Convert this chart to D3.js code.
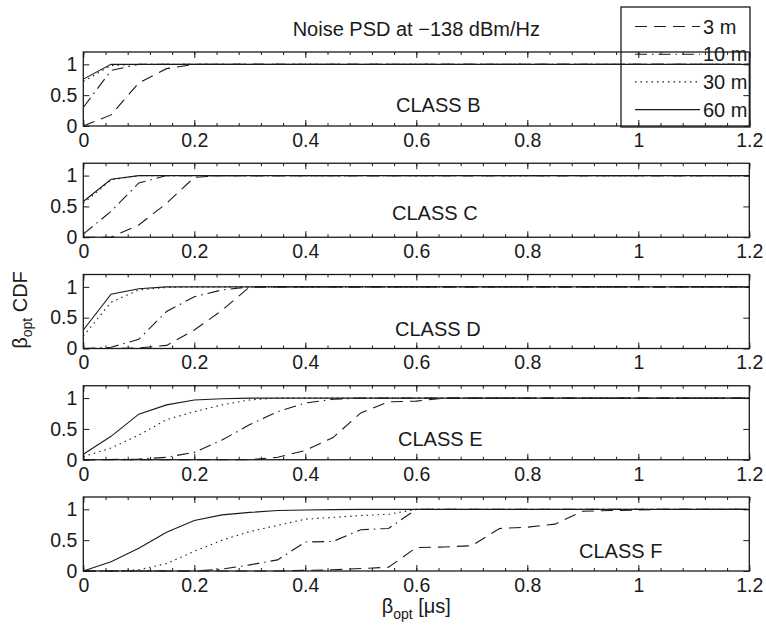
<!DOCTYPE html>
<meta charset="utf-8">
<style>
body { margin: 0; background: #fff; }
svg { display: block; }
text { font-family: "Liberation Sans", Arial, Helvetica, sans-serif; fill: #1a1a1a; }
.box { fill: none; stroke: #1a1a1a; stroke-width: 1.3; }
.axis line { stroke: #1a1a1a; stroke-width: 1; }
.axis text { font-size: 19.5px; }
.curve { fill: none; stroke: #1a1a1a; stroke-width: 1.1; }
</style>
<body>
<svg width="766" height="632"></svg>
<script src="https://cdn.jsdelivr.net/npm/d3@7"></script>
<script>

// series order: 3 m, 10 m, 30 m, 60 m ; points are [beta_opt (us), CDF]
var distances = ["3 m", "10 m", "30 m", "60 m"];
var classNames = ["CLASS B", "CLASS C", "CLASS D", "CLASS E", "CLASS F"];

var classB = [
  [[0,0],[0.05,0.18],[0.1,0.7],[0.15,0.93],[0.2,1],[1.2,1]],
  [[0,0.3],[0.05,0.9],[0.1,1],[1.2,1]],
  [[0,0.72],[0.05,0.98],[0.1,1],[1.2,1]],
  [[0,0.76],[0.05,1],[1.2,1]]
];
var classC = [
  [[0,0],[0.05,0],[0.1,0.2],[0.15,0.55],[0.2,0.97],[0.25,1],[1.2,1]],
  [[0,0.05],[0.05,0.42],[0.1,0.88],[0.15,1],[1.2,1]],
  [[0,0.55],[0.05,0.93],[0.1,1],[1.2,1]],
  [[0,0.58],[0.05,0.94],[0.1,1],[1.2,1]]
];
var classD = [
  [[0,0],[0.05,0],[0.1,0.01],[0.15,0.05],[0.2,0.3],[0.25,0.62],[0.3,1],[1.2,1]],
  [[0,0],[0.05,0.02],[0.1,0.15],[0.15,0.6],[0.2,0.84],[0.25,0.95],[0.3,1],[1.2,1]],
  [[0,0.2],[0.05,0.75],[0.1,0.95],[0.15,0.99],[0.2,1],[1.2,1]],
  [[0,0.3],[0.05,0.88],[0.1,0.97],[0.15,1],[1.2,1]]
];
var classE = [
  [[0,0],[0.3,0],[0.35,0.04],[0.4,0.15],[0.45,0.36],[0.5,0.76],[0.55,0.94],[0.6,0.95],[0.65,1],[1.2,1]],
  [[0,0],[0.1,0.01],[0.15,0.04],[0.2,0.12],[0.25,0.32],[0.3,0.57],[0.35,0.78],[0.4,0.92],[0.45,0.98],[0.5,1],[1.2,1]],
  [[0,0.05],[0.05,0.19],[0.1,0.4],[0.15,0.65],[0.2,0.78],[0.25,0.89],[0.3,0.97],[0.35,1],[1.2,1]],
  [[0,0.09],[0.05,0.38],[0.1,0.74],[0.15,0.89],[0.2,0.97],[0.25,0.99],[0.3,1],[1.2,1]]
];
var classF = [
  [[0,0],[0.35,0],[0.4,0.01],[0.45,0.02],[0.5,0.04],[0.55,0.06],[0.6,0.38],[0.65,0.39],[0.7,0.41],[0.75,0.69],[0.8,0.71],[0.85,0.76],[0.9,0.97],[0.95,0.98],[1,0.99],[1.05,1],[1.2,1]],
  [[0,0],[0.2,0],[0.25,0.03],[0.3,0.1],[0.35,0.18],[0.4,0.47],[0.45,0.48],[0.5,0.67],[0.55,0.69],[0.6,1],[1.2,1]],
  [[0,0],[0.05,0],[0.1,0.02],[0.15,0.12],[0.2,0.32],[0.25,0.5],[0.3,0.64],[0.35,0.74],[0.4,0.84],[0.45,0.87],[0.5,0.9],[0.55,0.92],[0.6,1],[1.2,1]],
  [[0,0],[0.05,0.15],[0.1,0.37],[0.15,0.63],[0.2,0.82],[0.25,0.91],[0.3,0.95],[0.35,0.98],[0.4,0.99],[0.45,0.995],[0.5,1],[1.2,1]]
];
var panels = [classB, classC, classD, classE, classF];

var xMajorTicks = [0, 0.2, 0.4, 0.6, 0.8, 1, 1.2];
var xTickLabels = ["0", "0.2", "0.4", "0.6", "0.8", "1", "1.2"];
var yTicks = [0, 0.5, 1];
var yTickLabels = ["0", "0.5", "1"];

// line styles per distance (dashed, dash-dot, dotted, solid)
var dashes = ["12,7", "12,5,1.5,5", "1.5,4", null];
// class label placement: [x, offset of baseline from panel top]
var labelPos = [[396, 60], [392, 57], [395, 61.5], [398, 60], [579, 61]];

var svg = d3.select("svg");
var left = 83.3, right = 749.3, panelH = 74;

var x = d3.scaleLinear().domain([0, 1.2]).range([left, right]);
var panelTop = d3.scaleLinear().domain([0, 4]).range([52, 497]);
var xMinor = d3.range(0, 1.2001, 0.04);

var line = d3.line()
    .x(function(d) { return x(d[0]); });

panels.forEach(function(series, i) {
  var top = panelTop(i);
  var y = d3.scaleLinear().domain([0, 1.2]).range([top + panelH, top]);
  var g = svg.append("g");

  // minor ticks, bottom and top
  g.append("g").attr("class", "axis")
      .attr("transform", "translate(0," + (top + panelH) + ")")
      .call(d3.axisBottom(x).tickValues(xMinor).tickSize(-3).tickSizeOuter(0).tickFormat(""));
  g.append("g").attr("class", "axis")
      .attr("transform", "translate(0," + top + ")")
      .call(d3.axisTop(x).tickValues(xMinor).tickSize(-3).tickSizeOuter(0).tickFormat(""));

  // major ticks with labels
  g.append("g").attr("class", "axis")
      .attr("transform", "translate(0," + (top + panelH) + ")")
      .call(d3.axisBottom(x).tickValues(xMajorTicks).tickSize(-6).tickSizeOuter(0).tickPadding(7)
        .tickFormat(function(d, k) { return xTickLabels[k]; }));
  g.append("g").attr("class", "axis")
      .attr("transform", "translate(0," + top + ")")
      .call(d3.axisTop(x).tickValues(xMajorTicks).tickSize(-6).tickSizeOuter(0).tickFormat(""));

  g.append("g").attr("class", "axis")
      .attr("transform", "translate(" + left + ",0)")
      .call(d3.axisLeft(y).tickValues(yTicks).tickSize(-6).tickSizeOuter(0).tickPadding(6)
        .tickFormat(function(d, k) { return yTickLabels[k]; }));
  g.append("g").attr("class", "axis")
      .attr("transform", "translate(" + right + ",0)")
      .call(d3.axisRight(y).tickValues(yTicks).tickSize(-6).tickSizeOuter(0).tickFormat(""));

  g.selectAll(".domain").remove();
  g.selectAll(".axis text").attr("fill", "#1a1a1a");

  line.y(function(d) { return y(d[1]); });
  g.selectAll(".curve")
    .data(series)
    .enter().append("path")
      .attr("class", "curve")
      .attr("stroke-dasharray", function(d, k) { return dashes[k]; })
      .attr("d", line);

  g.append("rect")
      .attr("class", "box")
      .attr("x", left)
      .attr("y", top)
      .attr("width", right - left)
      .attr("height", panelH);

  g.append("text")
      .attr("x", labelPos[i][0])
      .attr("y", top + labelPos[i][1])
      .style("font-size", "20px")
      .text(classNames[i]);
});

// title
svg.append("text")
    .attr("x", (left + right) / 2)
    .attr("y", 36)
    .attr("text-anchor", "middle")
    .style("font-size", "20px")
    .text("Noise PSD at \u2212138 dBm/Hz");

// y label
var yl = svg.append("text")
    .attr("transform", "translate(27," + 310 + ") rotate(-90)")
    .attr("text-anchor", "middle")
    .style("font-size", "20px");
yl.append("tspan").text("\u03b2");
yl.append("tspan").attr("dy", 5).style("font-size", "14px").text("opt");
yl.append("tspan").attr("dy", -5).text(" CDF");

// x label
var xl = svg.append("text")
    .attr("x", (left + right) / 2)
    .attr("y", 613)
    .attr("text-anchor", "middle")
    .style("font-size", "20px");
xl.append("tspan").text("\u03b2");
xl.append("tspan").attr("dy", 6).style("font-size", "14px").text("opt");
xl.append("tspan").attr("dy", -6).text(" [\u03bcs]");

// legend
var legend = svg.append("g");
legend.append("rect")
    .attr("x", 621).attr("y", 7)
    .attr("width", 129).attr("height", 120)
    .attr("fill", "#fff")
    .attr("class", "box");

var item = legend.selectAll(".item")
    .data(distances)
  .enter().append("g")
    .attr("class", "item")
    .attr("transform", function(d, k) { return "translate(0," + (33.5 + k * 27.7) + ")"; });

item.append("line")
    .attr("class", "curve")
    .attr("x1", 635).attr("x2", 700)
    .attr("y1", -7).attr("y2", -7)
    .attr("stroke-dasharray", function(d, k) { return dashes[k]; });

item.append("text")
    .attr("x", 703)
    .style("font-size", "20px")
    .text(function(d) { return d; });

</script>
</body>
